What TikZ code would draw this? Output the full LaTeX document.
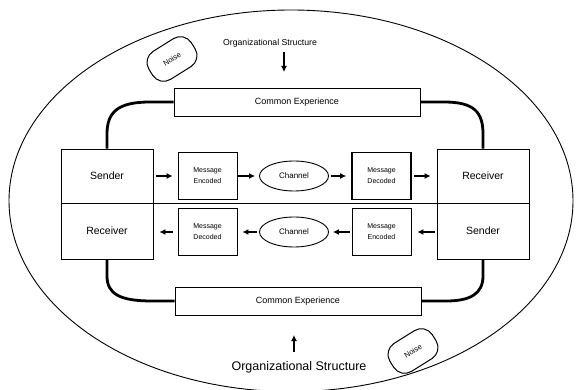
\documentclass[tikz,border=0pt]{standalone}
\usepackage{fontspec}
\setmainfont{Liberation Sans}
\usetikzlibrary{shapes.geometric,arrows.meta}
\tikzset{
  bigbox/.style={draw,line width=0.9pt,minimum width=92pt,inner sep=0pt,font=\fontsize{10.5}{12}\selectfont},
  msgbox/.style={draw,line width=0.9pt,minimum width=59pt,minimum height=47pt,inner sep=0pt,align=center,font=\fontsize{7}{11}\selectfont},
  chan/.style={draw,ellipse,line width=0.9pt,minimum width=69pt,minimum height=30pt,inner sep=0pt,font=\fontsize{8}{10}\selectfont},
  common/.style={draw,line width=0.9pt,minimum width=246pt,minimum height=28pt,inner sep=0pt,font=\fontsize{9}{11}\selectfont},
  noise/.style={draw,line width=1pt,rounded corners=13pt,rotate=32,minimum width=50pt,minimum height=33pt,inner sep=0pt,font=\fontsize{7.5}{9}\selectfont},
  arr/.style={-{Latex[length=6pt,width=6pt]},line width=1.3pt},
  thk/.style={line width=2.8pt},
}
\begin{document}
\begin{tikzpicture}[x=1pt,y=-1pt]
\useasboundingbox (0,0) rectangle (576,390);
% outer ellipse
\draw[line width=0.9pt] (291,200.8) ellipse [x radius=282pt, y radius=190.8pt];
% noise
\node[noise] (noiseA) at (172,59) {Noise};
\node[noise] (noiseB) at (413,351) {Noise};
% organizational structure
\node[font=\fontsize{8.7}{10}\selectfont] (orgA) at (270,43) {Organizational Structure};
\node[font=\fontsize{12.5}{14}\selectfont] (orgB) at (299,367) {Organizational Structure};
\coordinate (a1s) at (284,52);
\coordinate (a1e) at (284,72);
\coordinate (a2s) at (294,352);
\coordinate (a2e) at (294,335);
\draw[arr] (a1s) -- (a1e);
\draw[arr] (a2s) -- (a2e);
% common experience
\node[common] (ctop) at (297,102) {Common Experience};
\node[common] (cbot) at (298,301) {Common Experience};
% left / right boxes
\node[bigbox,minimum height=54pt] (sndL) at (107,176) {Sender};
\node[bigbox,minimum height=56pt] (rcvL) at (107,231) {Receiver};
\node[bigbox,minimum height=54pt] (rcvR) at (483,176) {Receiver};
\node[bigbox,minimum height=56pt] (sndR) at (483,231) {Sender};
\draw[line width=0.9pt] (sndL.south east) -- (rcvR.south west);
% top row
\node[msgbox] (encT) at (207.5,176) {Message\\Encoded};
\node[chan] (chT) at (294,176) {Channel};
\node[msgbox,line width=1.6pt] (decT) at (381.5,176) {Message\\Decoded};
% bottom row
\node[msgbox] (decB) at (207.5,232) {Message\\Decoded};
\node[chan] (chB) at (294,232) {Channel};
\node[msgbox] (encB) at (381.5,232) {Message\\Encoded};
% arrows top row
\draw[arr] ([xshift=3pt]sndL.east |- encT.west) -- ([xshift=-5pt]encT.west);
\draw[arr] ([xshift=1pt]encT.east) -- ([xshift=-4pt]chT.west);
\draw[arr] ([xshift=2pt]chT.east) -- ([xshift=-5pt]decT.west);
\draw[arr] ([xshift=2pt]decT.east) -- ([xshift=-6pt]rcvR.west |- decT.east);
% arrows bottom row
\draw[arr] ([xshift=-2pt]sndR.west |- encB.east) -- ([xshift=6pt]encB.east);
\draw[arr] ([xshift=-2pt]encB.west) -- ([xshift=4pt]chB.east);
\draw[arr] ([xshift=-2pt]chB.west) -- ([xshift=5pt]decB.east);
\draw[arr] ([xshift=-5pt]decB.west) -- ([xshift=6pt]rcvL.east |- decB.west);
% thick connectors
\draw[thk] (ctop.west) -- (150,102) .. controls (118,102) and (107,112) .. (107,134) -- (sndL.north);
\draw[thk] (ctop.east) -- (444,102) .. controls (474,102) and (483,112) .. (483,134) -- (rcvR.north);
\draw[thk] (rcvL.south) -- (107,276) .. controls (107,294) and (120,301) .. (152,301) -- (cbot.west);
\draw[thk] (sndR.south) -- (483,276) .. controls (483,294) and (470,301) .. (446,301) -- (cbot.east);
\end{tikzpicture}
\end{document}
